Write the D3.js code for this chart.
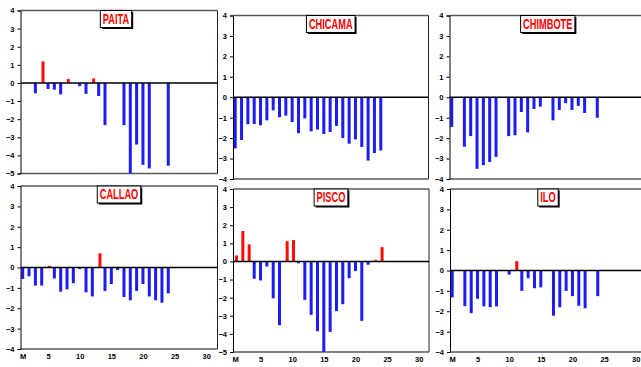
<!DOCTYPE html>
<html><head><meta charset="utf-8">
<script src="https://cdn.jsdelivr.net/npm/d3@7"></script>
<style>
html,body{margin:0;padding:0;background:#fff;}
svg{display:block;}
text{font-family:"Liberation Sans",Arial,sans-serif;}
</style></head>
<body>
<script>
// ---- data ----
const stations = ["PAITA","CHICAMA","CHIMBOTE","CALLAO","PISCO","ILO"];
const days = d3.range(1,25);
const paita    = [null,null,-0.57,1.19,-0.33,-0.37,-0.63,0.22,null,-0.18,-0.6,0.25,-0.72,-2.33,null,null,-2.33,-5.0,-3.4,-4.52,-4.72,null,null,-4.57];
const chicama  = [-2.5,-2.09,-1.32,-1.31,-1.37,-1.13,-0.64,-0.98,-0.9,-1.21,-1.76,-1.03,-1.67,-1.58,-1.8,-1.7,-1.4,-2.0,-2.27,-2.06,-2.43,-3.1,-2.73,-2.6];
const chimbote = [-1.45,null,-2.42,-1.9,-3.5,-3.32,-3.17,-2.92,null,-1.9,-1.86,-0.72,-1.72,-0.57,-0.46,null,-1.13,-0.62,-0.29,-0.62,-0.42,-0.77,null,-1.0];
const callao   = [-0.56,-0.43,-0.89,-0.89,0.08,-0.54,-1.19,-1.07,-0.77,-0.07,-1.22,-1.42,0.7,-1.15,-0.81,-0.12,-1.45,-1.61,-1.15,-0.81,-1.42,-1.61,-1.73,-1.27];
const pisco    = [0.33,1.68,0.94,-0.96,-1.05,-0.28,-2.04,-3.52,1.12,1.18,-0.1,-2.12,-2.95,-3.85,-5.0,-3.89,-2.74,-2.36,-0.92,-0.53,-3.28,-0.18,0.09,0.79];
const ilo      = [-1.32,null,-1.75,-2.09,-1.39,-1.76,-1.8,-1.76,null,-0.2,0.46,-1.0,-0.38,-0.87,-0.83,null,-2.22,-1.8,-1.0,-1.26,-1.73,-1.85,null,-1.26];
const seriesValues = [paita, chicama, chimbote, callao, pisco, ilo];
const yMins = [-5,-4,-4,-4,-5,-4];
const yMax = 4;
const xTickValues = [1,5,10,15,20,25,30];
const xTickLabels = ["M","5","10","15","20","25","30"];

// ---- layout ----
const W = 641, H = 367;
const panels = [
  {L:20.5, T:10.5, R:217.5, B:173.5},
  {L:233,  T:15.5, R:428.5, B:179},
  {L:449.5,T:15.5, R:646,   B:179},
  {L:20.5, T:186,  R:217.5, B:349},
  {L:233,  T:189,  R:429,   B:352},
  {L:450,  T:189,  R:646,   B:352}
];
const BLUE = "#1c1cf5", RED = "#ff0a0a";

const svg = d3.select("body").append("svg").attr("width",W).attr("height",H);

stations.forEach((name,i)=>{
  const p = panels[i];
  const vals = seriesValues[i];
  const x = d3.scaleLinear().domain([0.65,31.7]).range([p.L, p.L+196.5]);
  const y = d3.scaleLinear().domain([yMins[i], yMax]).range([p.B, p.T]);
  const g = svg.append("g");

  // frame (top / bottom gray, right dark)
  g.append("line").attr("x1",p.L).attr("x2",p.R).attr("y1",p.T).attr("y2",p.T)
    .attr("stroke","#585858").attr("stroke-width",1.4);
  g.append("line").attr("x1",p.L).attr("x2",p.R).attr("y1",p.B).attr("y2",p.B)
    .attr("stroke","#585858").attr("stroke-width",1.4);
  g.append("line").attr("x1",p.R).attr("x2",p.R).attr("y1",p.T).attr("y2",p.B)
    .attr("stroke","#222").attr("stroke-width",1);

  // bars
  const data = days.map((d,k)=>({day:d, v:vals[k]})).filter(o=>o.v!==null);
  g.selectAll("rect.bar").data(data).enter().append("rect")
    .attr("class","bar")
    .attr("x",d=> x(d.day) - 1.5 + (d.v>0?1.3:0))
    .attr("width",3)
    .attr("y",d=> Math.min(y(d.v), y(0)))
    .attr("height",d=> Math.abs(y(d.v)-y(0)))
    .attr("fill",d=> d.v>0?RED:BLUE);

  // zero line
  g.append("line").attr("x1",p.L).attr("x2",p.R).attr("y1",y(0)).attr("y2",y(0))
    .attr("stroke","#000").attr("stroke-width",1.5);

  // y axis
  const yAxis = d3.axisLeft(y).tickValues(d3.range(yMins[i], yMax+1)).tickSize(3).tickPadding(3)
    .tickFormat(d3.format("d"));
  const ya = g.append("g").attr("transform",`translate(${p.L},0)`).call(yAxis);
  ya.select(".domain").attr("stroke","#000").attr("stroke-width",1);
  ya.selectAll(".tick line").attr("stroke","#000");
  ya.selectAll(".tick text").attr("font-size","7.5px").attr("font-weight","bold")
    .attr("font-family","'Liberation Sans',Arial,sans-serif").attr("fill","#000");

  // x axis labels for bottom row
  if (i>=3){
    const xAxis = d3.axisBottom(x).tickValues(xTickValues).tickSize(0).tickPadding(5)
      .tickFormat((d,k)=>xTickLabels[k]);
    const xa = g.append("g").attr("transform",`translate(0,${p.B})`).call(xAxis);
    xa.select(".domain").remove();
    xa.selectAll(".tick text").attr("font-size","7.5px").attr("font-weight","bold")
      .attr("font-family","'Liberation Sans',Arial,sans-serif").attr("fill","#000");
  }

  // title box
  const cx = (p.L+p.R)/2 - (i===0?3:0);
  const tg = g.append("g");
  const shadow = tg.append("rect").attr("fill","#000");
  const box = tg.append("rect").attr("fill","#fff").attr("stroke","#000").attr("stroke-width",1);
  const sx = 0.66;
  const t = tg.append("text")
    .attr("font-size","14px").attr("font-weight","bold").attr("fill","#ff0000")
    .attr("text-anchor","middle").text(name)
    .attr("transform",`translate(${cx},${p.T+13.3}) scale(${sx},1)`);
  const tw = t.node().getComputedTextLength()*sx;
  const bw = tw+5, bh = 17;
  const bx = cx - bw/2, by = p.T;
  shadow.attr("x",bx+1.5).attr("y",by+1.5).attr("width",bw).attr("height",bh);
  box.attr("x",bx).attr("y",by).attr("width",bw).attr("height",bh);
});
</script>
</body></html>
